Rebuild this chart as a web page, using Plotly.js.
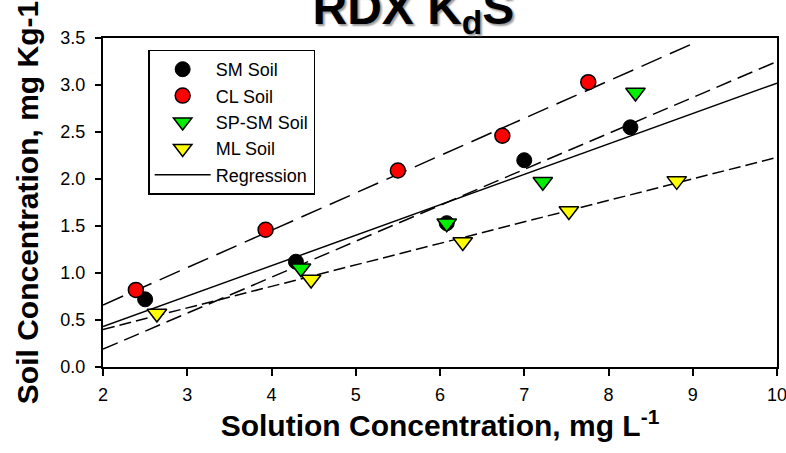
<!DOCTYPE html>
<html>
<head>
<meta charset="utf-8">
<script src="https://cdn.plot.ly/plotly-3.0.1.min.js"></script>
<style>html,body{margin:0;padding:0;background:#fff;}#chart{width:786px;height:453px;}</style>
</head>
<body>
<div id="chart"></div>
<script>
// Measured points (solution conc. mg/L, soil conc. mg/kg)
var smX = [2.50, 4.29, 6.08, 7.00, 8.26];
var smY = [0.72, 1.12, 1.53, 2.20, 2.55];
var clX = [2.39, 3.93, 5.50, 6.74, 7.76];
var clY = [0.82, 1.46, 2.09, 2.46, 3.03];
var spX = [4.35, 6.08, 7.22, 8.32];
var spY = [1.05, 1.53, 1.97, 2.92];
var mlX = [2.64, 4.47, 6.27, 7.53, 8.81];
var mlY = [0.57, 0.93, 1.33, 1.66, 1.98];
// Fitted lines (end points)
var regX = [2, 10];   var regY = [0.43, 3.02];
var clFitX = [2, 9.0]; var clFitY = [0.66, 3.44];
var spFitX = [2, 10];  var spFitY = [0.19, 3.25];
var mlFitX = [2, 10];  var mlFitY = [0.40, 2.23];
var xTicks = [2, 3, 4, 5, 6, 7, 8, 9, 10];
var yTicks = [0.0, 0.5, 1.0, 1.5, 2.0, 2.5, 3.0, 3.5];

var FONT = 'Arial, "Liberation Sans", sans-serif';

var traces = [
  {x: clFitX, y: clFitY, mode: 'lines', showlegend: false, hoverinfo: 'skip',
   line: {color: '#000', width: 1.5, dash: '22px,9px'}},
  {x: spFitX, y: spFitY, mode: 'lines', showlegend: false, hoverinfo: 'skip',
   line: {color: '#000', width: 1.5, dash: '16px,7px'}},
  {x: mlFitX, y: mlFitY, mode: 'lines', showlegend: false, hoverinfo: 'skip',
   line: {color: '#000', width: 1.5, dash: '12px,5px'}},
  {x: regX, y: regY, mode: 'lines', name: 'Regression', legendrank: 5,
   line: {color: '#000', width: 1.5}},
  {x: smX, y: smY, mode: 'markers', name: 'SM Soil', legendrank: 1,
   marker: {symbol: 'circle', size: 15, color: '#000', line: {color: '#000', width: 1}}},
  {x: clX, y: clY, mode: 'markers', name: 'CL Soil', legendrank: 2,
   marker: {symbol: 'circle', size: 15, color: '#ff0000', line: {color: '#000', width: 1.5}}},
  {x: spX, y: spY, mode: 'markers', name: 'SP-SM Soil', legendrank: 3,
   marker: {symbol: 'triangle-down', size: 17, color: '#00ee00', line: {color: '#000', width: 1.5}}},
  {x: mlX, y: mlY, mode: 'markers', name: 'ML Soil', legendrank: 4,
   marker: {symbol: 'triangle-down', size: 17, color: '#ffff00', line: {color: '#000', width: 1.5}}}
];

var layout = {
  width: 786, height: 453,
  margin: {l: 103, r: 9, t: 38, b: 86, pad: 0},
  paper_bgcolor: '#fff', plot_bgcolor: '#fff',
  font: {family: FONT, color: '#000', size: 18},
  title: {
    text: 'RDX K<sub>d</sub>S',
    font: {family: FONT, size: 48, weight: 'bold', color: '#000', shadow: '2px 2px 2px #999'},
    xref: 'container', x: 0.526, xanchor: 'center',
    yref: 'container', y: 0.947, yanchor: 'bottom'
  },
  xaxis: {
    range: [2, 10], tickvals: xTicks, ticktext: xTicks.map(String),
    showgrid: false, zeroline: false,
    showline: true, linecolor: '#000', linewidth: 2, mirror: true,
    ticks: 'outside', ticklen: 7, tickwidth: 2, tickcolor: '#000',
    tickfont: {size: 18}, ticklabelstandoff: 3, ticklabeloverflow: 'allow',
    title: {text: 'Solution Concentration, mg L<sup>-1</sup>',
            font: {size: 30, weight: 'bold'}, standoff: 10}
  },
  yaxis: {
    range: [0, 3.5], tickvals: yTicks, ticktext: yTicks.map(function(v){return v.toFixed(1);}),
    showgrid: false, zeroline: false,
    showline: true, linecolor: '#000', linewidth: 2, mirror: true,
    ticks: 'outside', ticklen: 6, tickwidth: 2, tickcolor: '#000',
    tickfont: {size: 18}, ticklabelstandoff: 6, ticklabeloverflow: 'allow',
    title: {text: 'Soil Concentration, mg Kg-1',
            font: {size: 30, weight: 'bold'}, standoff: 13}
  },
  legend: {
    x: 0.067, y: 0.965, xanchor: 'left', yanchor: 'top',
    bgcolor: 'rgba(255,255,255,1)', bordercolor: '#000', borderwidth: 1.5,
    font: {size: 18}, itemwidth: 56
  },
  showlegend: true
};

Plotly.newPlot('chart', traces, layout, {displayModeBar: false, staticPlot: true});
</script>
</body>
</html>
